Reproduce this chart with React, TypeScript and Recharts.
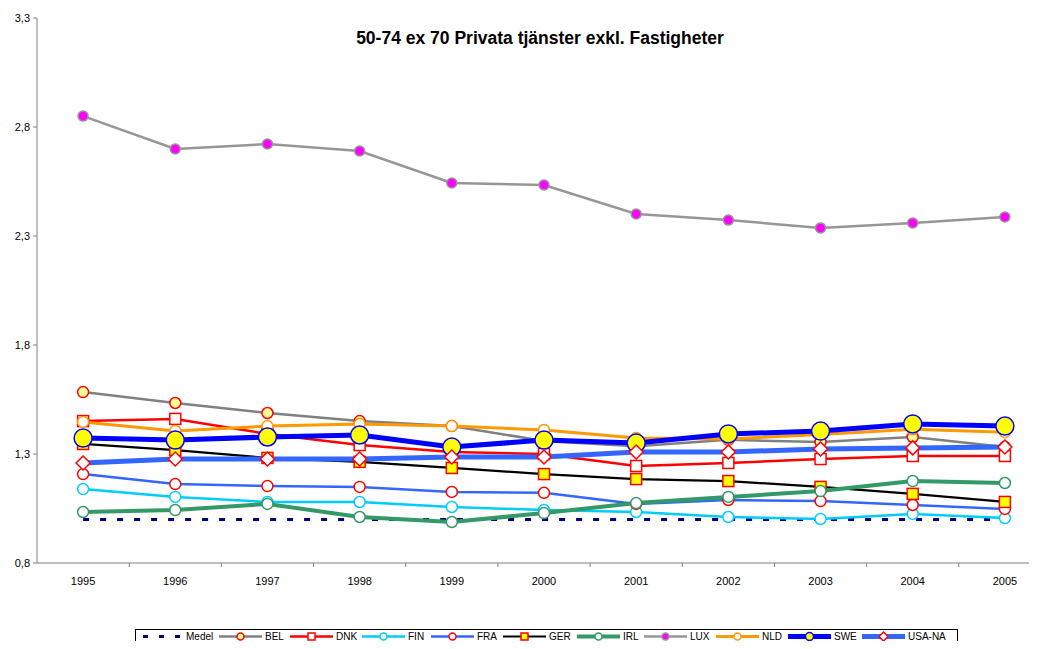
import { LineChart, Line, XAxis, YAxis } from "recharts";

const years = ["1995", "1996", "1997", "1998", "1999", "2000", "2001", "2002", "2003", "2004", "2005"];

const medel = [1.0, 1.0, 1.0, 1.0, 1.0, 1.0, 1.0, 1.0, 1.0, 1.0, 1.0];
const bel = [1.584, 1.534, 1.488, 1.451, 1.428, 1.36, 1.335, 1.365, 1.355, 1.378, 1.332];
const dnk = [1.451, 1.461, 1.392, 1.341, 1.309, 1.3, 1.245, 1.259, 1.277, 1.291, 1.291];
const fin = [1.139, 1.103, 1.08, 1.08, 1.057, 1.043, 1.034, 1.011, 1.002, 1.025, 1.006];
const fra = [1.208, 1.162, 1.153, 1.149, 1.126, 1.122, 1.071, 1.089, 1.084, 1.066, 1.048];
const ger = [1.346, 1.318, 1.282, 1.264, 1.236, 1.208, 1.185, 1.176, 1.149, 1.117, 1.08];
const irl = [1.034, 1.043, 1.071, 1.011, 0.988, 1.029, 1.075, 1.103, 1.13, 1.176, 1.167];
const lux = [2.85, 2.699, 2.722, 2.69, 2.543, 2.534, 2.401, 2.373, 2.337, 2.36, 2.387];
const nld = [1.447, 1.405, 1.428, 1.438, 1.428, 1.41, 1.373, 1.369, 1.39, 1.413, 1.4];
const swe = [1.373, 1.364, 1.378, 1.387, 1.332, 1.364, 1.35, 1.392, 1.405, 1.438, 1.428];
const usa = [1.259, 1.277, 1.277, 1.277, 1.286, 1.286, 1.309, 1.309, 1.323, 1.328, 1.332];

const yTicks = [0.8, 1.3, 1.8, 2.3, 2.8, 3.3];

const data = years.map((year, i) => ({
  year,
  Medel: medel[i],
  BEL: bel[i],
  DNK: dnk[i],
  FIN: fin[i],
  FRA: fra[i],
  GER: ger[i],
  IRL: irl[i],
  LUX: lux[i],
  NLD: nld[i],
  SWE: swe[i],
  "USA-NA": usa[i],
}));

type Shape = "none" | "circle" | "square" | "diamond";

interface Serie {
  key: string;
  color: string;
  width: number;
  dash?: string;
  shape: Shape;
  size?: number;
  fill?: string;
  stroke?: string;
  legendSize?: number;
}

const series: Serie[] = [
  { key: "Medel", color: "#000080", width: 3, dash: "6 11", shape: "none" },
  { key: "BEL", color: "#808080", width: 2.5, shape: "circle", size: 5.5, fill: "#FFFF99", stroke: "#FF0000", legendSize: 3.5 },
  { key: "DNK", color: "#FF0000", width: 2.5, shape: "square", size: 5.5, fill: "#FFFFFF", stroke: "#FF0000", legendSize: 3.5 },
  { key: "FIN", color: "#00CCFF", width: 2.5, shape: "circle", size: 5.5, fill: "#FFFFFF", stroke: "#00CCFF", legendSize: 3.5 },
  { key: "FRA", color: "#3366FF", width: 2.5, shape: "circle", size: 5.5, fill: "#FFFFFF", stroke: "#FF0000", legendSize: 3.5 },
  { key: "GER", color: "#000000", width: 2.2, shape: "square", size: 5.5, fill: "#FFFF00", stroke: "#FF0000", legendSize: 3.5 },
  { key: "IRL", color: "#339966", width: 4, shape: "circle", size: 5.5, fill: "#FFFFFF", stroke: "#339966", legendSize: 3.5 },
  { key: "LUX", color: "#969696", width: 2.5, shape: "circle", size: 5, fill: "#FF00FF", stroke: "#969696", legendSize: 3.5 },
  { key: "NLD", color: "#FF9900", width: 3, shape: "circle", size: 5.5, fill: "#FFFFFF", stroke: "#FF9900", legendSize: 3.5 },
  { key: "SWE", color: "#0000FF", width: 5, shape: "circle", size: 9, fill: "#FFFF00", stroke: "#0000FF", legendSize: 4 },
  { key: "USA-NA", color: "#3366FF", width: 5, shape: "diamond", size: 7, fill: "#FFFFFF", stroke: "#FF0000", legendSize: 4.5 },
];

const CHART_W = 1060;
const CHART_H = 649;
const PLOT_LEFT = 37;
const PLOT_RIGHT = 1051;
const AXIS_Y = 563;
const HALF_BAND = (PLOT_RIGHT - PLOT_LEFT) / years.length / 2;

const marker = (s: Serie, cx: number, cy: number, r: number, key?: string) => {
  const sw = 1.5;
  if (s.shape === "circle") {
    return <circle key={key} cx={cx} cy={cy} r={r} fill={s.fill} stroke={s.stroke} strokeWidth={sw} />;
  }
  if (s.shape === "square") {
    return <rect key={key} x={cx - r} y={cy - r} width={r * 2} height={r * 2} fill={s.fill} stroke={s.stroke} strokeWidth={sw} />;
  }
  if (s.shape === "diamond") {
    return (
      <polygon
        key={key}
        points={`${cx},${cy - r} ${cx + r},${cy} ${cx},${cy + r} ${cx - r},${cy}`}
        fill={s.fill}
        stroke={s.stroke}
        strokeWidth={sw}
      />
    );
  }
  return <g key={key} />;
};

const XTick = (props: any) => {
  const { x, payload } = props;
  return (
    <g>
      <line x1={x + HALF_BAND} y1={AXIS_Y} x2={x + HALF_BAND} y2={AXIS_Y + 4} stroke="#808080" />
      <text x={x} y={581} textAnchor="middle" dominantBaseline="central" fontSize={11} fill="#000">
        {payload.value}
      </text>
    </g>
  );
};

// legend drawn inside the chart svg, below the plot
const LEGEND_X = 135;
const LEGEND_Y = 629;
const ITEM_X = [140, 219, 290, 362, 431, 503, 577, 644, 716, 788, 862];

const ChartLegend = () => (
  <g>
    <rect x={LEGEND_X + 0.5} y={LEGEND_Y + 0.5} width={822} height={30} fill="#fff" stroke="#000" />
    {series.map((s, i) => {
      const x = ITEM_X[i];
      const cy = LEGEND_Y + 7.5;
      return (
        <g key={s.key}>
          {s.shape === "none" ? (
            <line x1={x + 3} y1={cy} x2={x + 41} y2={cy} stroke={s.color} strokeWidth={s.width} strokeDasharray="5 11" />
          ) : (
            <>
              <line x1={x} y1={cy} x2={x + 43} y2={cy} stroke={s.color} strokeWidth={s.width} />
              {marker(s, x + 21.5, cy, s.legendSize || 3.5)}
            </>
          )}
          <text x={x + 46} y={cy} dominantBaseline="central" fontSize={10} fill="#000">
            {s.key}
          </text>
        </g>
      );
    })}
  </g>
);

export default function App() {
  return (
    <div
      style={{
        position: "relative",
        width: 1037,
        height: 649,
        margin: -8,
        overflow: "hidden",
        background: "#fff",
        fontFamily: "'Liberation Sans', Arial, sans-serif",
      }}
    >
      <div
        style={{
          position: "absolute",
          left: 0,
          top: 27,
          width: 1080,
          textAlign: "center",
          fontWeight: "bold",
          fontSize: 17.5,
          lineHeight: "22px",
          zIndex: 2,
        }}
      >
        50-74 ex 70 Privata tjänster exkl. Fastigheter
      </div>
      <LineChart
        width={CHART_W}
        height={CHART_H}
        data={data}
        margin={{ top: 18, right: CHART_W - PLOT_RIGHT, left: 0, bottom: 56 }}
      >
        <XAxis
          dataKey="year"
          height={30}
          padding={{ left: HALF_BAND, right: HALF_BAND }}
          stroke="#808080"
          tickLine={false}
          tick={<XTick />}
          interval={0}
        />
        <YAxis
          width={PLOT_LEFT}
          domain={[0.8, 3.3]}
          ticks={yTicks}
          interval={0}
          stroke="#808080"
          tickSize={4}
          tickMargin={3}
          tick={{ fontSize: 11, fill: "#000" }}
          tickFormatter={(v: number) => v.toFixed(1).replace(".", ",")}
          allowDataOverflow
        />
        {series.map((s) => (
          <Line
            key={s.key}
            type="linear"
            dataKey={s.key}
            stroke={s.color}
            strokeWidth={s.width}
            strokeDasharray={s.dash}
            isAnimationActive={false}
            activeDot={false}
            dot={
              s.shape === "none"
                ? false
                : (p: any) => marker(s, p.cx, p.cy, s.size || 5, `${s.key}-${p.index}`)
            }
          />
        ))}
        <ChartLegend />
      </LineChart>
    </div>
  );
}
